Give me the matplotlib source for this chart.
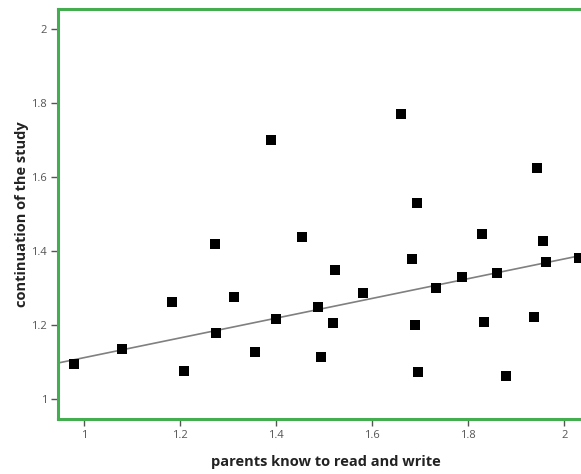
import numpy as np
import matplotlib
matplotlib.use("Agg")
import matplotlib.pyplot as plt

# data
x_vals = [0.979, 1.078, 1.183, 1.208, 1.272, 1.274, 1.3125, 1.355, 1.399, 1.390,
          1.453, 1.488, 1.4925, 1.522, 1.519, 1.581, 1.659, 1.682, 1.6925, 1.690,
          1.695, 1.732, 1.7875, 1.829, 1.833, 1.859, 1.879, 1.944, 1.937, 1.956,
          1.961, 2.030]
y_vals = [1.094, 1.134, 1.262, 1.076, 1.419, 1.179, 1.276, 1.127, 1.216, 1.700,
          1.439, 1.248, 1.1135, 1.349, 1.205, 1.286, 1.772, 1.380, 1.531, 1.199,
          1.073, 1.301, 1.330, 1.446, 1.209, 1.3405, 1.062, 1.625, 1.222, 1.427,
          1.371, 1.382]
# fit line as shown in the reference (intercept, slope)
fit_intercept = 0.845
fit_slope = 0.267
x_ticks = [1, 1.2, 1.4, 1.6, 1.8, 2]
y_ticks = [1, 1.2, 1.4, 1.6, 1.8, 2]
x_tick_labels = ["1", "1.2", "1.4", "1.6", "1.8", "2"]
y_tick_labels = ["1", "1.2", "1.4", "1.6", "1.8", "2"]
x_label = "parents know to read and write"
y_label = "continuation of the study"

plt.rcParams['font.family'] = ['Open Sans', 'DejaVu Sans']

W, H = 581, 474
fig = plt.figure(figsize=(W / 100, H / 100), dpi=100)
left_px, bottom_px, top_px = 58.3, 419, 9
xmin, xmax = 0.946, 2.06
px_per_unit = 480
right_px = left_px + (xmax - xmin) * px_per_unit
ax = fig.add_axes([left_px / W, 1 - bottom_px / H,
                   (right_px - left_px) / W, (bottom_px - top_px) / H])
ax.set_xlim(xmin, xmax)
ax.set_ylim(0.946, 2.055)

green = '#43ad4f'
for s in ax.spines.values():
    s.set_color(green)
    s.set_linewidth(2.2)

xs = np.array(x_vals)
ys = np.array(y_vals)
lx = np.array([xmin, xmax])
ax.plot(lx, fit_intercept + fit_slope * lx, color='#808080', lw=1.2, zorder=2)

ax.scatter(xs, ys, marker='s', s=42, color='black', zorder=3, linewidths=0)

ax.set_xticks(x_ticks)
ax.set_xticklabels(x_tick_labels)
ax.set_yticks(y_ticks)
ax.set_yticklabels(y_tick_labels)
ax.tick_params(axis='both', colors='#555555', labelcolor='#555555',
               labelsize=8, length=5, width=1, direction='out', pad=3)

ax.set_xlabel(x_label, fontsize=10.5, fontweight='bold', color='#222222', labelpad=10)
ax.set_ylabel(y_label, fontsize=10.5, fontweight='bold', color='#222222', labelpad=2)

fig.savefig('out.png', dpi=100)
